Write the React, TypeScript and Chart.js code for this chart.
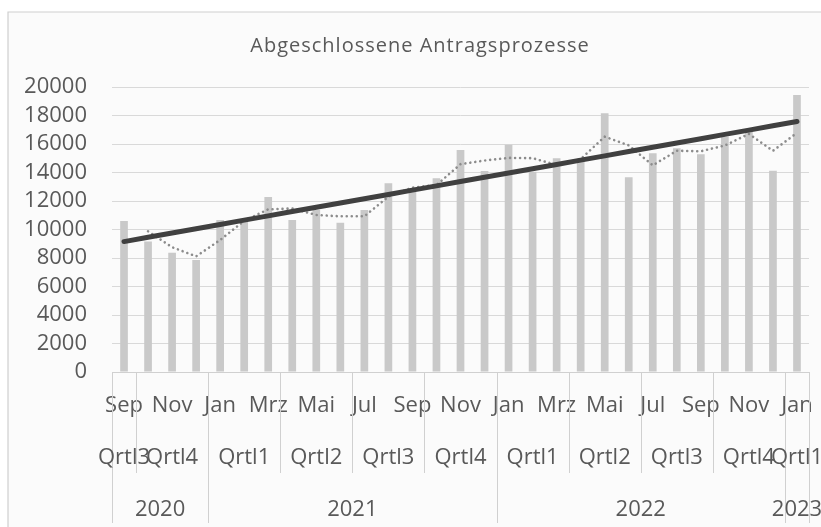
import React, { useEffect, useRef } from 'react';
import { Chart, registerables } from 'chart.js';

Chart.register(...registerables);

const chartTitle = 'Abgeschlossene Antragsprozesse';

const monthLabels = [
  'Sep', 'Okt', 'Nov', 'Dez',
  'Jan', 'Feb', 'Mrz', 'Apr', 'Mai', 'Jun', 'Jul', 'Aug', 'Sep', 'Okt', 'Nov', 'Dez',
  'Jan', 'Feb', 'Mrz', 'Apr', 'Mai', 'Jun', 'Jul', 'Aug', 'Sep', 'Okt', 'Nov', 'Dez',
  'Jan',
];

const quarterLabels = [
  'Qrtl3', 'Qrtl4', 'Qrtl4', 'Qrtl4',
  'Qrtl1', 'Qrtl1', 'Qrtl1', 'Qrtl2', 'Qrtl2', 'Qrtl2', 'Qrtl3', 'Qrtl3', 'Qrtl3', 'Qrtl4', 'Qrtl4', 'Qrtl4',
  'Qrtl1', 'Qrtl1', 'Qrtl1', 'Qrtl2', 'Qrtl2', 'Qrtl2', 'Qrtl3', 'Qrtl3', 'Qrtl3', 'Qrtl4', 'Qrtl4', 'Qrtl4',
  'Qrtl1',
];

const yearLabels = [
  '2020', '2020', '2020', '2020',
  '2021', '2021', '2021', '2021', '2021', '2021', '2021', '2021', '2021', '2021', '2021', '2021',
  '2022', '2022', '2022', '2022', '2022', '2022', '2022', '2022', '2022', '2022', '2022', '2022',
  '2023',
];

const completedValues = [
  10600, 9150, 8370, 7860,
  10670, 10550, 12280, 10670, 11370, 10480, 11370, 13240, 12650, 13590, 15580, 14100,
  15950, 14060, 15000, 14880, 18150, 13660, 15350, 15700, 15280, 16510, 16910, 14130,
  19440,
];

const yTicks = [0, 2000, 4000, 6000, 8000, 10000, 12000, 14000, 16000, 18000, 20000];

// Trendlines derived from the series (as the spreadsheet does)
const movingAverage2 = completedValues.map((v, i) =>
  i === 0 ? null : (completedValues[i - 1] + v) / 2
);
const linearTrend = (() => {
  const n = completedValues.length;
  let sx = 0, sy = 0, sxx = 0, sxy = 0;
  completedValues.forEach((y, x) => { sx += x; sy += y; sxx += x * x; sxy += x * y; });
  const b = (n * sxy - sx * sy) / (n * sxx - sx * sx);
  const a = (sy - b * sx) / n;
  return completedValues.map((_, x) => a + b * x);
})();

const FONT = '"Open Sans", "Noto Sans", sans-serif';
const TEXT = '#595959';
const LINE = '#d0d0d0';

function runs(labels: string[], keyOf: (i: number) => string) {
  const out: { label: string; start: number; end: number }[] = [];
  labels.forEach((l, i) => {
    const k = keyOf(i);
    const last = out[out.length - 1] as any;
    if (last && last.key === k) last.end = i + 1;
    else out.push({ label: l, start: i, end: i + 1, key: k } as any);
  });
  return out;
}

const framePlugin = {
  id: 'frameAndLevels',
  beforeDraw(chart: any) {
    const ctx = chart.ctx;
    ctx.save();
    ctx.fillStyle = '#ffffff';
    ctx.fillRect(0, 0, chart.width, chart.height);
    ctx.fillStyle = '#fbfbfb';
    ctx.fillRect(8, 12, chart.width, chart.height);
    ctx.strokeStyle = '#cfcfcf';
    ctx.lineWidth = 1.2;
    ctx.beginPath();
    ctx.moveTo(8, chart.height);
    ctx.lineTo(8, 12);
    ctx.lineTo(chart.width, 12);
    ctx.stroke();
    // title
    ctx.fillStyle = TEXT;
    ctx.font = `20px ${FONT}`;
    try { (ctx as any).letterSpacing = '1px'; } catch (e) {}
    ctx.textAlign = 'center';
    ctx.textBaseline = 'alphabetic';
    ctx.fillText(chartTitle, 420, 52);
    try { (ctx as any).letterSpacing = '0px'; } catch (e) {}
    ctx.restore();
  },
  afterDraw(chart: any) {
    const ctx = chart.ctx;
    const xs = chart.scales.x;
    const area = chart.chartArea;
    const step = xs.getPixelForValue(1) - xs.getPixelForValue(0);
    const edge = (i: number) => xs.getPixelForValue(i) - step / 2;
    const quarters = runs(quarterLabels, (i) => yearLabels[i] + quarterLabels[i]);
    const years = runs(yearLabels, (i) => yearLabels[i]);
    ctx.save();
    ctx.strokeStyle = LINE;
    ctx.lineWidth = 1;
    quarters.forEach((q) => {
      [q.start, q.end].forEach((b) => {
        const x = Math.round(edge(b)) + 0.5;
        ctx.beginPath();
        ctx.moveTo(x, area.bottom);
        ctx.lineTo(x, area.bottom + 101);
        ctx.stroke();
      });
    });
    years.forEach((y) => {
      [y.start, y.end].forEach((b) => {
        const x = Math.round(edge(b)) + 0.5;
        ctx.beginPath();
        ctx.moveTo(x, area.bottom);
        ctx.lineTo(x, area.bottom + 151);
        ctx.stroke();
      });
    });
    ctx.fillStyle = TEXT;
    ctx.font = `22px ${FONT}`;
    ctx.textAlign = 'center';
    ctx.textBaseline = 'alphabetic';
    quarters.forEach((q) => {
      ctx.fillText(q.label, (edge(q.start) + edge(q.end)) / 2, area.bottom + 92);
    });
    years.forEach((y) => {
      ctx.fillText(y.label, (edge(y.start) + edge(y.end)) / 2, area.bottom + 144);
    });
    ctx.restore();
  },
};

export default function App() {
  const ref = useRef<HTMLCanvasElement | null>(null);
  useEffect(() => {
    if (!ref.current) return;
    const chart = new Chart(ref.current, {
      type: 'bar',
      data: {
        labels: monthLabels,
        datasets: [
          {
            type: 'line',
            label: 'Linear',
            data: linearTrend,
            borderColor: '#404040',
            borderWidth: 5,
            borderCapStyle: 'round',
            pointRadius: 0,
            fill: false,
            order: 0,
          } as any,
          {
            type: 'line',
            label: 'Gleitender Durchschnitt',
            data: movingAverage2,
            borderColor: '#8c8c8c',
            borderWidth: 2.6,
            borderDash: [0.01, 5],
            borderCapStyle: 'round',
            pointRadius: 0,
            fill: false,
            order: 1,
          } as any,
          {
            type: 'bar',
            label: 'Abgeschlossene Antragsprozesse',
            data: completedValues,
            backgroundColor: '#c9c9c9',
            barPercentage: 0.32,
            categoryPercentage: 1,
            order: 2,
          } as any,
        ],
      },
      options: {
        responsive: false,
        animation: false,
        layout: { padding: { top: 87, right: 12, bottom: 0, left: 0 } },
        plugins: {
          legend: { display: false },
          tooltip: { enabled: false },
          title: { display: false },
        },
        scales: {
          x: {
            type: 'category',
            offset: true,
            grid: { display: false, drawTicks: false },
            border: { display: true, color: LINE, width: 1 },
            ticks: {
              autoSkip: false,
              maxRotation: 0,
              minRotation: 0,
              padding: 21,
              color: TEXT,
              font: { family: FONT, size: 22 },
              callback: (_v: any, i: number) => (i % 2 === 0 ? monthLabels[i] : ''),
            },
            afterFit: (s: any) => { s.height = 155; s.paddingLeft = 0; s.paddingRight = 0; },
          },
          y: {
            min: 0,
            max: 20000,
            afterBuildTicks: (s: any) => { s.ticks = yTicks.map((v) => ({ value: v })); },
            grid: { color: '#d9d9d9', lineWidth: 1, drawTicks: false },
            border: { display: false },
            ticks: {
              autoSkip: false,
              padding: 25,
              color: TEXT,
              font: { family: FONT, size: 22 },
              callback: (v: any) => String(v),
            },
            afterFit: (s: any) => { s.width = 112; s.paddingTop = 0; s.paddingBottom = 0; },
          },
        },
      } as any,
      plugins: [framePlugin],
    });
    return () => chart.destroy();
  }, []);
  return (
    <div style={{ position: 'fixed', left: 0, top: 0, width: 821, height: 527, background: '#fff' }}>
      <canvas ref={ref} width={821} height={527} style={{ width: 821, height: 527, display: 'block' }} />
    </div>
  );
}
